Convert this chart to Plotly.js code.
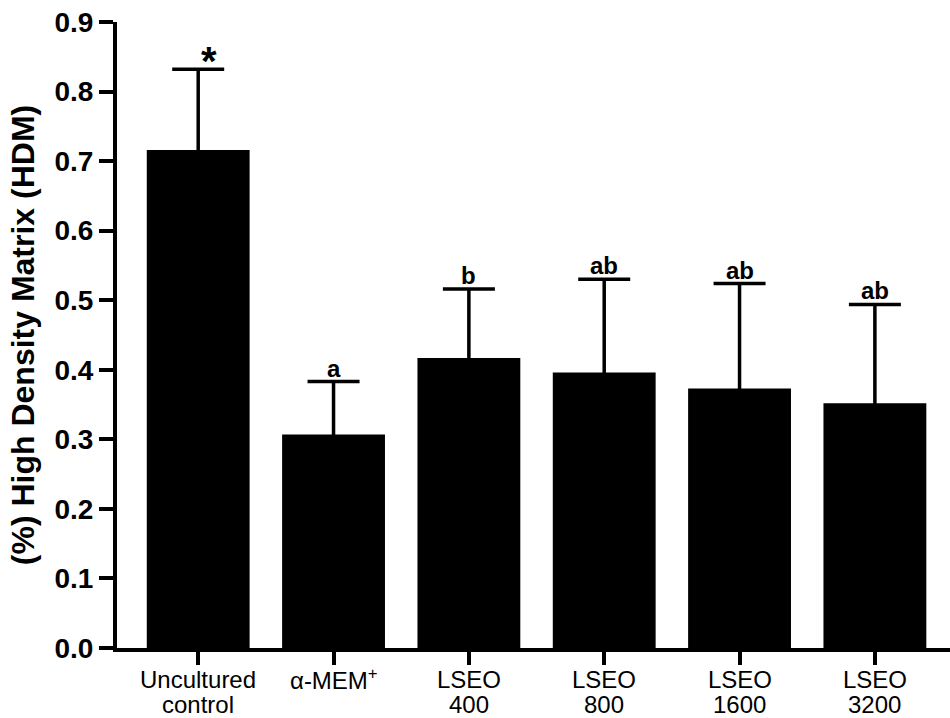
<!DOCTYPE html>
<html>
<head>
<meta charset="utf-8">
<script src="https://cdn.plot.ly/plotly-3.0.1.min.js"></script>
<style>html,body{margin:0;padding:0;background:#fff;}#chart{width:950px;height:718px;}</style>
</head>
<body>
<div id="chart"></div>
<script>
const categories = ["Uncultured control", "α-MEM+", "LSEO 400", "LSEO 800", "LSEO 1600", "LSEO 3200"];
const tickLine1 = ["Uncultured", "α-MEM<sup>+</sup>", "LSEO", "LSEO", "LSEO", "LSEO"];
const tickLine2 = ["control", "", "400", "800", "1600", "3200"];
const means = [0.716, 0.307, 0.417, 0.396, 0.373, 0.352];
const errors = [0.116, 0.076, 0.099, 0.134, 0.151, 0.142];
const sigLetters = ["*", "a", "b", "ab", "ab", "ab"];

const FONT = "Liberation Sans, Arial, Helvetica, sans-serif";

const trace = {
  type: "bar",
  x: categories,
  y: means,
  marker: {color: "#000000", line: {width: 0}},
  error_y: {type: "data", array: errors, symmetric: true,
            visible: true, color: "#000000", thickness: 3.5, width: 26},
  hoverinfo: "skip"
};

const annotations = [];
sigLetters.forEach((t, i) => {
  const star = t === "*";
  annotations.push({
    x: categories[i],
    y: means[i] + errors[i],
    xref: "x", yref: "y",
    text: t,
    showarrow: false,
    yanchor: "bottom",
    xanchor: "center",
    xshift: star ? 11 : 0,
    yshift: star ? -16 : -2,
    font: {family: FONT, size: star ? 40 : 24, color: "#000", weight: "bold"}
  });
});
categories.forEach((c, i) => {
  annotations.push({
    x: c, y: 0, xref: "x", yref: "paper",
    text: tickLine1[i], showarrow: false,
    xanchor: "center", yanchor: "middle", yshift: -31,
    font: {family: FONT, size: 24, color: "#000"}
  });
  if (tickLine2[i]) {
    annotations.push({
      x: c, y: 0, xref: "x", yref: "paper",
      text: tickLine2[i], showarrow: false,
      xanchor: "center", yanchor: "middle", yshift: -56,
      font: {family: FONT, size: 24, color: "#000"}
    });
  }
});

const layout = {
  width: 950, height: 718,
  margin: {l: 117, r: 0, t: 22, b: 70, pad: 0},
  paper_bgcolor: "#fff", plot_bgcolor: "#fff",
  showlegend: false,
  bargap: 0.24,
  font: {family: FONT, color: "#000"},
  xaxis: {
    type: "category",
    range: [-0.6, 5.555],
    tickmode: "array",
    tickvals: categories,
    showticklabels: false,
    ticks: "outside", ticklen: 13, tickwidth: 4, tickcolor: "#000",
    showline: true, linewidth: 4, linecolor: "#000",
    showgrid: false, zeroline: false,
    fixedrange: true
  },
  yaxis: {
    range: [0, 0.9],
    tickmode: "linear", tick0: 0, dtick: 0.1,
    tickformat: ".1f",
    ticks: "outside", ticklen: 14, tickwidth: 4, tickcolor: "#000",
    showline: true, linewidth: 4, linecolor: "#000",
    showgrid: false, zeroline: false,
    tickfont: {family: FONT, size: 28, color: "#000", weight: "bold"},
    title: {text: "(%) High Density Matrix (HDM)", font: {family: FONT, size: 32, color: "#000", weight: "bold"}, standoff: 11},
    fixedrange: true
  },
  annotations: annotations
};

Plotly.newPlot("chart", [trace], layout, {displayModeBar: false, staticPlot: true});
</script>
</body>
</html>
